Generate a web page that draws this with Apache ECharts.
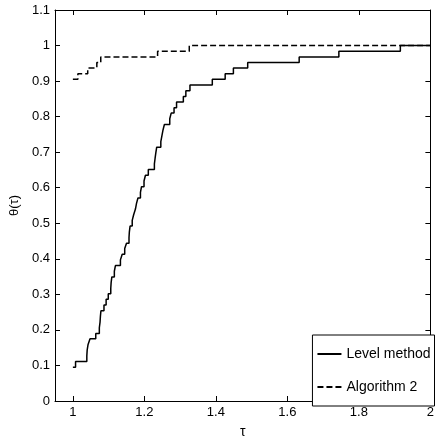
<!DOCTYPE html>
<html>
<head>
<meta charset="utf-8">
<script src="https://cdn.jsdelivr.net/npm/echarts@6/dist/echarts.min.js"></script>
<style>
  html, body { margin: 0; padding: 0; background: #fff; }
  #chart { width: 437px; height: 444px; }
</style>
</head>
<body>
<div id="chart"></div>
<script>
// performance profile data
var levelTau = [1.000, 1.0075, 1.039, 1.040, 1.0425, 1.048, 1.064, 1.074, 1.076, 1.077,
                1.0785, 1.087, 1.093, 1.099, 1.106, 1.107, 1.109, 1.116, 1.119, 1.133,
                1.138, 1.145, 1.150, 1.157, 1.158, 1.160, 1.166, 1.170, 1.175, 1.178,
                1.182, 1.189, 1.192, 1.199, 1.203, 1.211, 1.228, 1.230, 1.232, 1.2345,
                1.246, 1.249, 1.252, 1.256, 1.271, 1.275, 1.283, 1.290, 1.309, 1.316,
                1.3275, 1.390, 1.426, 1.449, 1.489, 1.633, 1.744, 1.916, 2.000];
var levelRho = [0.095, 0.111, 0.127, 0.143, 0.159, 0.175, 0.190, 0.206, 0.222, 0.238,
                0.254, 0.270, 0.286, 0.302, 0.317, 0.333, 0.349, 0.365, 0.381, 0.397,
                0.413, 0.429, 0.444, 0.460, 0.476, 0.492, 0.508, 0.524, 0.540, 0.556,
                0.571, 0.587, 0.603, 0.619, 0.635, 0.651, 0.667, 0.683, 0.698, 0.714,
                0.730, 0.746, 0.762, 0.778, 0.794, 0.810, 0.825, 0.841, 0.857, 0.873,
                0.889, 0.905, 0.921, 0.937, 0.952, 0.968, 0.984, 1.000, 1.000];

var algTau = [1.000, 1.014, 1.0415, 1.067, 1.078, 1.237, 1.3256, 2.000];
var algRho = [0.905, 0.921, 0.937, 0.952, 0.968, 0.984, 1.000, 1.000];

var xTicks = [1, 1.2, 1.4, 1.6, 1.8, 2];

function zip(a, b) {
    var out = [];
    for (var i = 0; i < a.length; i++) out.push([a[i], b[i]]);
    return out;
}

var chart = echarts.init(document.getElementById('chart'), null, { renderer: 'canvas' });

var fontFam = '"Liberation Sans", Arial, Helvetica, sans-serif';

function xAxisCfg(pos, showLabel) {
    return {
        type: 'value',
        position: pos,
        min: 0.95,
        max: 2,
        name: showLabel ? 'τ' : '',
        nameLocation: 'middle',
        nameGap: 24,
        nameTextStyle: { color: '#000', fontSize: 14, fontFamily: fontFam },
        axisLine: { show: true, onZero: false, lineStyle: { color: '#000', width: 1 } },
        axisTick: { show: true, inside: true, length: 5, customValues: xTicks, lineStyle: { color: '#000' } },
        axisLabel: { show: showLabel, customValues: xTicks, margin: 5, color: '#000',
                     fontSize: 13, fontFamily: fontFam },
        splitLine: { show: false }
    };
}

function yAxisCfg(pos, showLabel) {
    return {
        type: 'value',
        position: pos,
        min: 0,
        max: 1.1,
        interval: 0.1,
        name: showLabel ? 'θ(τ)' : '',
        nameLocation: 'middle',
        nameGap: 30,
        nameRotate: 90,
        nameTextStyle: { color: '#000', fontSize: 13, fontFamily: fontFam },
        axisLine: { show: true, onZero: false, lineStyle: { color: '#000', width: 1 } },
        axisTick: { show: true, inside: true, length: 5, lineStyle: { color: '#000' } },
        axisLabel: { show: showLabel, margin: 5, color: '#000', fontSize: 13, fontFamily: fontFam,
                     formatter: function (v) { return String(Math.round(v * 10) / 10); } },
        splitLine: { show: false }
    };
}

var option = {
    animation: false,
    backgroundColor: '#fff',
    grid: { left: 55, right: 2.5, top: 10, bottom: 32.3 },
    xAxis: [xAxisCfg('bottom', true), xAxisCfg('top', false)],
    yAxis: [yAxisCfg('left', true), yAxisCfg('right', false)],
    legend: {
        orient: 'vertical',
        right: 2.5,
        bottom: 38,
        padding: [12, 4, 12, 4],
        itemGap: 19,
        itemWidth: 24,
        itemHeight: 14,
        backgroundColor: '#fff',
        borderColor: '#000',
        borderWidth: 1,
        itemStyle: { opacity: 0 },
        textStyle: { color: '#000', fontSize: 14, fontFamily: fontFam },
        data: ['Level method', 'Algorithm 2']
    },
    series: [
        {
            name: 'Level method',
            type: 'line',
            step: 'end',
            symbol: 'none',
            data: zip(levelTau, levelRho),
            lineStyle: { color: '#000', width: 1.5, type: 'solid' },
            itemStyle: { color: '#000' }
        },
        {
            name: 'Algorithm 2',
            type: 'line',
            step: 'end',
            symbol: 'none',
            data: zip(algTau, algRho),
            lineStyle: { color: '#000', width: 1.5, type: [6, 3] },
            itemStyle: { color: '#000' }
        }
    ]
};

chart.setOption(option);
</script>
</body>
</html>
